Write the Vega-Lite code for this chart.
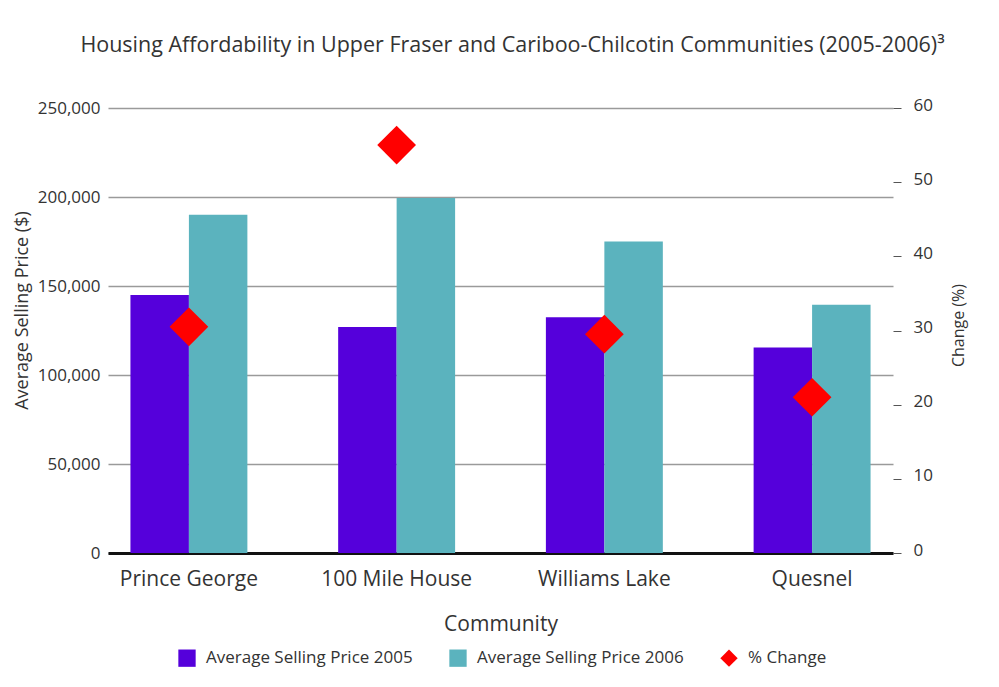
{
  "$schema": "https://vega.github.io/schema/vega-lite/v6.json",
  "width": 785,
  "height": 445,
  "autosize": {"type": "none"},
  "padding": {"left": 108, "top": 108, "right": 106, "bottom": 134},
  "background": "white",
  "config": {
    "font": "Open Sans",
    "view": {"stroke": null},
    "axis": {"labelColor": "#333", "titleColor": "#333", "titleFontWeight": "normal"}
  },
  "title": {
    "text": "Housing Affordability in Upper Fraser and Cariboo-Chilcotin Communities  (2005-2006)³",
    "fontSize": 21.5,
    "fontWeight": "normal",
    "color": "#333",
    "anchor": "middle",
    "dx": 12,
    "offset": 40
  },
  "datasets": {
    "prices": [
      {"community": "Prince George", "series": "Average Selling Price 2005", "price": 145000},
      {"community": "Prince George", "series": "Average Selling Price 2006", "price": 190000},
      {"community": "100 Mile House", "series": "Average Selling Price 2005", "price": 127000},
      {"community": "100 Mile House", "series": "Average Selling Price 2006", "price": 199500},
      {"community": "Williams Lake", "series": "Average Selling Price 2005", "price": 132500},
      {"community": "Williams Lake", "series": "Average Selling Price 2006", "price": 175000},
      {"community": "Quesnel", "series": "Average Selling Price 2005", "price": 115500},
      {"community": "Quesnel", "series": "Average Selling Price 2006", "price": 139500}
    ],
    "change": [
      {"community": "Prince George", "series": "% Change", "pct": 30.5},
      {"community": "100 Mile House", "series": "% Change", "pct": 55},
      {"community": "Williams Lake", "series": "% Change", "pct": 29.5},
      {"community": "Quesnel", "series": "% Change", "pct": 21}
    ]
  },
  "layer": [
    {
      "data": {"name": "prices"},
      "mark": {"type": "bar"},
      "encoding": {
        "x": {
          "field": "community",
          "type": "nominal",
          "sort": ["Prince George", "100 Mile House", "Williams Lake", "Quesnel"],
          "scale": {"paddingInner": 0.437, "paddingOuter": 0.108},
          "axis": {
            "title": "Community",
            "labelAngle": 0,
            "labelFontSize": 21,
            "titleFontSize": 21,
            "labelPadding": 15,
            "titlePadding": 24,
            "ticks": false,
            "domain": true,
            "domainColor": "#111",
            "domainWidth": 3
          }
        },
        "xOffset": {
          "field": "series",
          "type": "nominal",
          "sort": ["Average Selling Price 2005", "Average Selling Price 2006"],
          "scale": {"paddingInner": 0, "paddingOuter": 0}
        },
        "y": {
          "field": "price",
          "type": "quantitative",
          "scale": {"domain": [0, 250000]},
          "axis": {
            "orient": "left",
            "title": "Average Selling Price ($)",
            "values": [0, 50000, 100000, 150000, 200000, 250000],
            "format": ",d",
            "labelFontSize": 17,
            "titleFontSize": 18,
            "labelPadding": 8,
            "ticks": false,
            "domain": false,
            "grid": true,
            "gridColor": "#9a9a9a",
            "gridWidth": 1.5,
            "titleAngle": 270,
            "titleX": -86,
            "titleY": 202,
            "titleBaseline": "middle",
            "titleAlign": "center"
          }
        },
        "color": {
          "field": "series",
          "type": "nominal",
          "scale": {
            "domain": ["Average Selling Price 2005", "Average Selling Price 2006", "% Change"],
            "range": ["#5500DB", "#5BB3BE", "#FF0000"]
          },
          "legend": {
            "title": null,
            "orient": "none",
            "legendX": 70,
            "legendY": 541,
            "direction": "horizontal",
            "labelFontSize": 17,
            "labelLimit": 400,
            "labelColor": "#333",
            "symbolSize": 300,
            "symbolOpacity": 1,
            "symbolStrokeWidth": 0,
            "labelOffset": 10,
            "columnPadding": 36
          }
        }
      }
    },
    {
      "data": {"name": "change"},
      "mark": {"type": "point", "filled": true, "opacity": 1, "size": 1500},
      "encoding": {
        "x": {
          "field": "community",
          "type": "nominal",
          "sort": ["Prince George", "100 Mile House", "Williams Lake", "Quesnel"]
        },
        "y": {
          "field": "pct",
          "type": "quantitative",
          "scale": {"domain": [0, 60]},
          "axis": {
            "orient": "right",
            "title": "Change (%)",
            "values": [0, 10, 20, 30, 40, 50, 60],
            "labelFontSize": 17,
            "titleFontSize": 16,
            "labelPadding": 12,
            "labelOffset": -3,
            "ticks": true,
            "tickSize": 8,
            "tickColor": "#555",
            "domain": false,
            "grid": false,
            "titleAngle": 270,
            "titleX": 65,
            "titleY": 217,
            "titleBaseline": "middle",
            "titleAlign": "center"
          }
        },
        "color": {"field": "series", "type": "nominal"},
        "shape": {
          "field": "series",
          "type": "nominal",
          "scale": {
            "domain": ["Average Selling Price 2005", "Average Selling Price 2006", "% Change"],
            "range": ["square", "square", "diamond"]
          },
          "legend": {
            "title": null,
            "orient": "none",
            "legendX": 70,
            "legendY": 541,
            "direction": "horizontal",
            "labelFontSize": 17,
            "labelLimit": 400,
            "labelColor": "#333",
            "symbolSize": 300,
            "symbolOpacity": 1,
            "symbolStrokeWidth": 0,
            "labelOffset": 10,
            "columnPadding": 36
          }
        }
      }
    }
  ],
  "resolve": {"scale": {"y": "independent"}}
}
